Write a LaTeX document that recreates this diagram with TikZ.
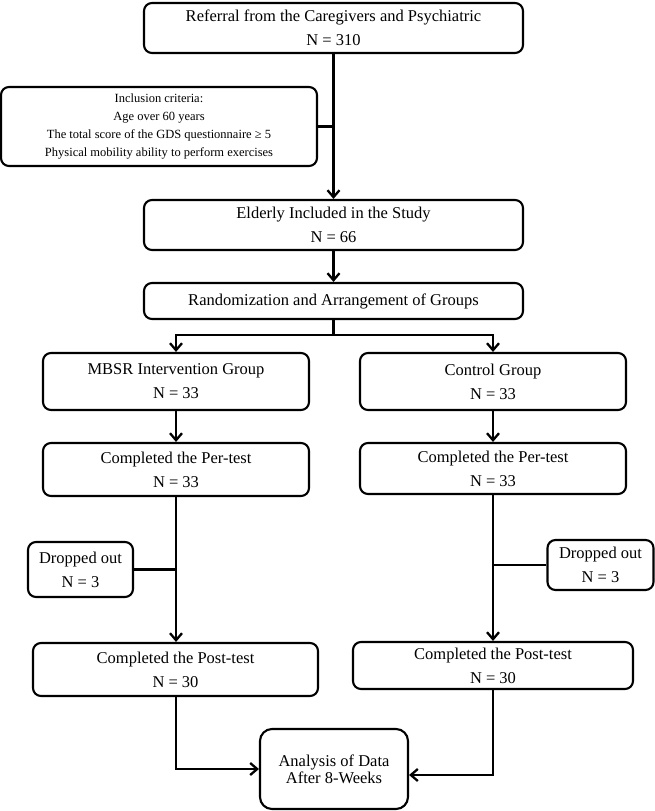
\documentclass[tikz,border=0pt]{standalone}
\usepackage{fontspec}
\setmainfont{Liberation Serif}
\usetikzlibrary{arrows.meta}
\begin{document}
\begin{tikzpicture}[x=1pt,y=-1pt,
  box/.style={draw=black, line width=2.1pt, rounded corners=8pt, inner sep=0pt, align=center,
    font=\fontsize{16.5}{24}\selectfont},
  smallbox/.style={box, font=\fontsize{12.5}{18}\selectfont},
  tightbox/.style={box, rounded corners=12pt, font=\fontsize{16.5}{17}\selectfont},
  conn/.style={line width=2.5pt},
  arr/.style={conn, -{Straight Barb[length=7pt,width=12pt,line width=2.3pt]}}]
\useasboundingbox (0,0) rectangle (655,811);

\node[box, minimum width=379pt, minimum height=50pt] (top) at (333.5,28) {Referral from the Caregivers and Psychiatric\\N = 310};
\node[smallbox, minimum width=316pt, minimum height=79pt] (incl) at (159,126.5) {Inclusion criteria:\\Age over 60 years\\The total score of the GDS questionnaire ≥ 5\\Physical mobility ability to perform exercises};
\node[box, minimum width=379pt, minimum height=50pt] (eld) at (333.5,225) {Elderly Included in the Study\\N = 66};
\node[box, minimum width=379pt, minimum height=36pt] (rand) at (333.5,301) {Randomization and Arrangement of Groups};

\node[box, minimum width=266pt, minimum height=57pt] (mbsr) at (176,381.5) {MBSR Intervention Group\\N = 33};
\node[box, minimum width=266pt, minimum height=57pt] (ctrl) at (493,381.5) {Control Group\\N = 33};
\node[box, minimum width=266pt, minimum height=53pt] (perL) at (176,469.5) {Completed the Per-test\\N = 33};
\node[box, minimum width=266pt, minimum height=51pt] (perR) at (493,468.5) {Completed the Per-test\\N = 33};
\node[box, minimum width=105pt, minimum height=55pt] (dropL) at (80.5,569.5) {Dropped out\\N = 3};
\node[box, minimum width=106pt, minimum height=50pt] (dropR) at (600.5,565) {Dropped out\\N = 3};
\node[box, minimum width=285pt, minimum height=53pt] (postL) at (175.5,669.5) {Completed the Post-test\\N = 30};
\node[box, minimum width=280pt, minimum height=47pt] (postR) at (493,665.5) {Completed the Post-test\\N = 30};
\node[tightbox, minimum width=148pt, minimum height=80pt] (ana) at (334,769) {Analysis of Data\\After 8-Weeks};

\draw[arr] (top.south) -- (eld.north);
\draw[conn] (incl.east) -- (incl.east -| top.south);
\draw[arr] (eld.south) -- (rand.north);
\coordinate (split) at (333.5,335);
\draw[conn] (rand.south) -- (split);
\draw[arr] (split) -| (mbsr.north);
\draw[arr] (split) -| (ctrl.north);
\draw[arr] (mbsr.south) -- (perL.north);
\draw[arr] (ctrl.south) -- (perR.north);
\draw[arr] (perL.south) -- (postL.north -| perL.south);
\draw[arr] (perR.south) -- (postR.north);
\draw[conn] (dropL.east) -- (dropL.east -| perL.south);
\draw[conn] (dropR.west) -- (dropR.west -| perR.south);
\draw[arr] (postL.south -| perL.south) |- (ana.west);
\draw[arr] (postR.south) |- ([yshift=-6pt]ana.east);
\end{tikzpicture}
\end{document}
